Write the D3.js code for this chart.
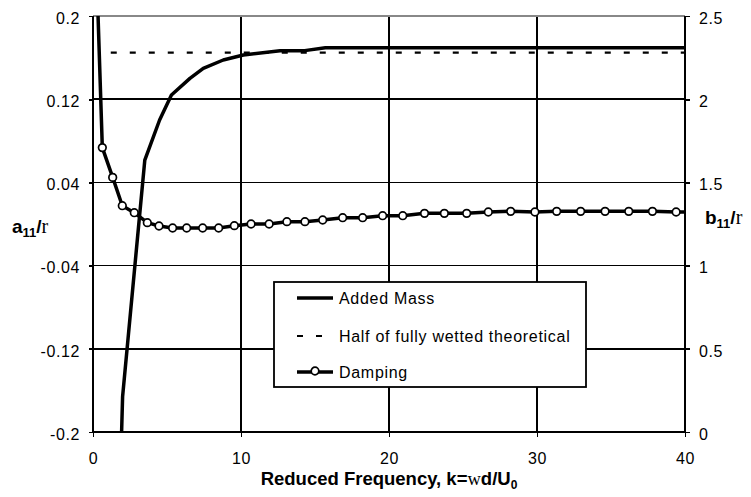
<!DOCTYPE html>
<html>
<head>
<meta charset="utf-8">
<script src="https://cdn.jsdelivr.net/npm/d3@7"></script>
<style>
  body { margin: 0; background: #fff; }
  svg { display: block; font-family: "Liberation Sans", Arial, sans-serif; }
</style>
</head>
<body>
<svg width="751" height="497"></svg>
<script>
// reduced frequency ticks and the two y axes
const kTicks = [0, 10, 20, 30, 40];
const aTicks = [-0.2, -0.12, -0.04, 0.04, 0.12, 0.2];
const bTicks = [0, 0.5, 1, 1.5, 2, 2.5];

// added mass a11/rho (left axis)
const massK = [1.5, 2.0, 3.5, 4.5, 5.3, 6.55, 7.45, 8.8, 10.16, 12.64, 14.3, 15.7, 40];
const massA = [-0.42, -0.166, 0.0615, 0.100, 0.124, 0.140, 0.1497, 0.1577, 0.1625, 0.1665, 0.1667, 0.1695, 0.1695];

// half of fully wetted theoretical (left axis)
const theoryK = [1.2, 40];
const theoryA = [0.1647, 0.1647];

// damping b11/rho (right axis)
const dampK = [0.25, 0.63, 1.33, 1.98, 2.79, 3.67, 4.46, 5.38, 6.33, 7.41, 8.49, 9.55, 10.68, 11.9, 13.1,
  14.32, 15.52, 16.87, 18.22, 19.57, 20.93, 22.4, 23.74, 25.25, 26.71, 28.22, 29.86, 31.33, 32.95,
  34.6, 36.2, 37.8, 39.4, 40];
const dampB = [2.75, 1.709, 1.530, 1.360, 1.318, 1.258, 1.238, 1.226, 1.226, 1.226, 1.226, 1.240, 1.25, 1.25, 1.264,
  1.264, 1.274, 1.288, 1.288, 1.30, 1.30, 1.314, 1.314, 1.314, 1.322, 1.326, 1.322, 1.326, 1.326,
  1.326, 1.326, 1.326, 1.322, 1.322];

let svg = d3.select('svg');

let x = d3.scaleLinear().domain([0, 40]).range([93, 685]);
let yA = d3.scaleLinear().domain([-0.2, 0.2]).range([432, 16]);
let yB = d3.scaleLinear().domain([0, 2.5]).range([432, 16]);

svg.append('defs').append('clipPath').attr('id', 'plot')
  .append('rect')
  .attr('x', x(0)).attr('y', yA(0.2))
  .attr('width', x(40) - x(0)).attr('height', yA(-0.2) - yA(0.2));

//grid
let grid = svg.append('g').attr('shape-rendering', 'crispEdges');
grid.selectAll('.h')
  .data(aTicks.filter(d => d > -0.2 && d < 0.2))
  .enter().append('line')
  .attr('x1', x(0)).attr('x2', x(40))
  .attr('y1', d => yA(d)).attr('y2', d => yA(d))
  .attr('stroke', '#000').attr('stroke-width', 1.6);
grid.selectAll('.v')
  .data(kTicks.filter(d => d > 0 && d < 40))
  .enter().append('line')
  .attr('x1', d => x(d)).attr('x2', d => x(d))
  .attr('y1', yA(0.2)).attr('y2', yA(-0.2))
  .attr('stroke', '#000').attr('stroke-width', 1.6);

// gray top border
svg.append('line')
  .attr('shape-rendering', 'crispEdges')
  .attr('x1', x(0)).attr('x2', x(40))
  .attr('y1', yA(0.2)).attr('y2', yA(0.2))
  .attr('stroke', '#888').attr('stroke-width', 1.6);

//axes
let fmt = d => String(+(+d).toFixed(2));

let axL = svg.append('g')
  .attr('transform', `translate(${x(0)},0)`)
  .call(d3.axisLeft(yA).tickValues(aTicks).tickSize(4).tickPadding(9).tickFormat(fmt));

let axR = svg.append('g')
  .attr('transform', `translate(${x(40)},0)`)
  .call(d3.axisRight(yB).tickValues(bTicks).tickSize(5).tickPadding(9).tickFormat(fmt));

let axB = svg.append('g')
  .attr('transform', `translate(0,${yA(-0.2)})`)
  .call(d3.axisBottom(x).tickValues(kTicks).tickSize(5).tickPadding(16).tickFormat(fmt));

[axL, axR, axB].forEach(g => {
  g.attr('font-family', null).attr('font-size', null);
  g.select('.domain').attr('stroke', '#000').attr('stroke-width', 1.8).attr('shape-rendering', 'crispEdges');
  g.selectAll('.tick line').attr('stroke', '#000').attr('stroke-width', 1.6).attr('shape-rendering', 'crispEdges');
  g.selectAll('.tick text')
    .attr('fill', '#000')
    .style('font-size', '16px')
    .style('letter-spacing', '0.6px');
});
axL.selectAll('.tick text').attr('dy', '0.45em');
axR.selectAll('.tick text').attr('dy', '0.45em');
// drop the outer tick stubs that d3 draws on the domain path
axL.select('.domain').attr('d', `M0,${yA(0.2)}V${yA(-0.2)}`);
axR.select('.domain').attr('d', `M0,${yA(0.2)}V${yA(-0.2)}`);
axB.select('.domain').attr('d', `M${x(0)},0H${x(40)}`);

//series
let plot = svg.append('g').attr('clip-path', 'url(#plot)');

let lineA = d3.line().x(d => x(d[0])).y(d => yA(d[1]));
let lineB = d3.line().x(d => x(d[0])).y(d => yB(d[1]));

plot.append('path')
  .datum(theoryK.map((k, i) => [k, theoryA[i]]))
  .attr('d', lineA)
  .attr('fill', 'none').attr('stroke', '#000')
  .attr('stroke-width', 2.2).attr('stroke-dasharray', '6,13');

plot.append('path')
  .datum(massK.map((k, i) => [k, massA[i]]))
  .attr('d', lineA)
  .attr('fill', 'none').attr('stroke', '#000')
  .attr('stroke-width', 3.5).attr('stroke-linejoin', 'round');

let damp = dampK.map((k, i) => [k, dampB[i]]);
plot.append('path')
  .datum(damp)
  .attr('d', lineB)
  .attr('fill', 'none').attr('stroke', '#000')
  .attr('stroke-width', 3.5).attr('stroke-linejoin', 'round');

plot.selectAll('.mk')
  .data(damp.filter(d => d[0] < 40))
  .enter().append('circle')
  .attr('cx', d => x(d[0])).attr('cy', d => yB(d[1]))
  .attr('r', 3.8)
  .attr('fill', '#fff').attr('stroke', '#000').attr('stroke-width', 1.7);

//legend
let lg = svg.append('g').attr('transform', 'translate(274,282)');
lg.append('rect')
  .attr('width', 312).attr('height', 105)
  .attr('fill', '#fff').attr('stroke', '#000').attr('stroke-width', 1.8);

let rows = ['Added Mass', 'Half of fully wetted theoretical', 'Damping'];
let rowY = [16, 54, 90];
rows.forEach((name, i) => {
  let g = lg.append('g').attr('transform', `translate(0,${rowY[i]})`);
  let ln = g.append('line')
    .attr('x1', 23).attr('x2', 59)
    .attr('stroke', '#000');
  if (i == 1) {
    ln.attr('stroke-width', 2.2).attr('stroke-dasharray', '6,13');
  } else {
    ln.attr('stroke-width', 3.5);
  }
  if (i == 2) {
    g.append('circle').attr('cx', 41).attr('cy', -1).attr('r', 3.8)
      .attr('fill', '#fff').attr('stroke', '#000').attr('stroke-width', 1.7);
  }
  g.append('text')
    .attr('x', 65).attr('y', 6)
    .style('font-size', '16px')
    .style('letter-spacing', '0.7px')
    .text(name);
});

//axis titles
let serif = '"Liberation Serif", "Times New Roman", serif';

let tl = svg.append('text')
  .attr('x', 12).attr('y', 233)
  .style('font-size', '19px').style('font-weight', 'bold');
tl.append('tspan').text('a');
tl.append('tspan').attr('dy', 4).style('font-size', '13px').text('11');
tl.append('tspan').attr('dy', -4).text('/');
tl.append('tspan').style('font-family', serif)
  .style('font-weight', 'normal').style('font-size', '20px').text('r');

let tr = svg.append('text')
  .attr('x', 705).attr('y', 224)
  .style('font-size', '19px').style('font-weight', 'bold');
tr.append('tspan').text('b');
tr.append('tspan').attr('dy', 4).style('font-size', '13px').text('11');
tr.append('tspan').attr('dy', -4).text('/');
tr.append('tspan').style('font-family', serif)
  .style('font-weight', 'normal').style('font-size', '20px').text('r');

let tb = svg.append('text')
  .attr('x', x(20)).attr('y', 485)
  .attr('text-anchor', 'middle')
  .style('font-size', '18.5px').style('font-weight', 'bold');
tb.append('tspan').text('Reduced Frequency, k=');
tb.append('tspan').style('font-family', serif)
  .style('font-weight', 'normal').text('w');
tb.append('tspan').text('d/U');
tb.append('tspan').attr('dy', 4).style('font-size', '12px').text('0');
</script>
</body>
</html>
